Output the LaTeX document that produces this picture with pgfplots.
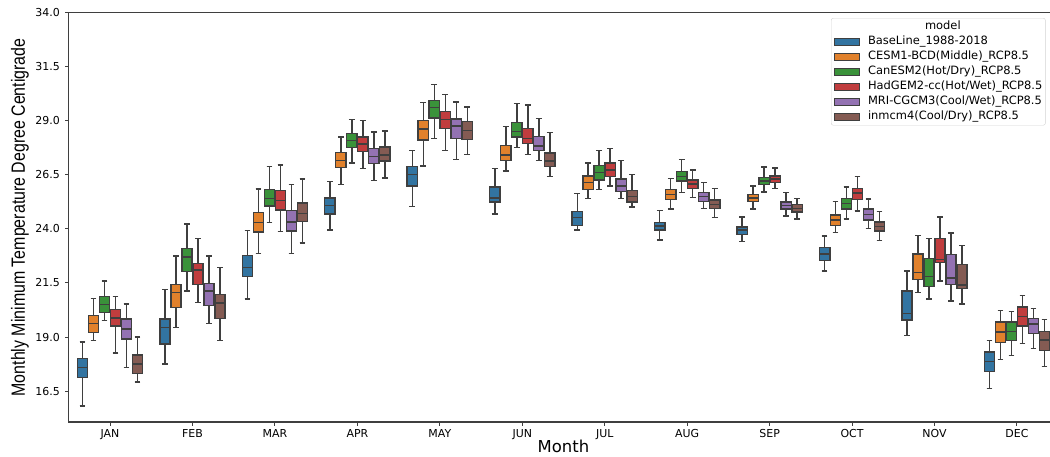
\documentclass[border=0pt]{standalone}
\usepackage{fontspec}
\setmainfont{DejaVu Sans}
\newfontfamily\lib{Liberation Sans}
\usepackage{graphicx}
\usepackage{pgfplots}
\pgfplotsset{compat=1.18}
\usepgfplotslibrary{statistics}
\definecolor{cB}{HTML}{3274A1}
\definecolor{cO}{HTML}{E1812C}
\definecolor{cG}{HTML}{3A923A}
\definecolor{cR}{HTML}{C03D3E}
\definecolor{cP}{HTML}{9372B2}
\definecolor{cN}{HTML}{845B53}
\definecolor{edge}{HTML}{3F3F3F}
\newcommand{\bx}[7]{\addplot[boxplot prepared={draw position=#1, lower whisker=#3, lower quartile=#4, median=#5, upper quartile=#6, upper whisker=#7, box extend=0.125, whisker extend=0.07}, fill=#2, draw=edge, line width=1.5bp, solid] coordinates {};}
\begin{document}
\begin{tikzpicture}
\useasboundingbox (-68.8bp,-35bp) rectangle (981.2bp,422bp);
\begin{axis}[
  scale only axis, width=989.4bp, height=409.3bp,
  boxplot/draw direction=y,
  xmin=-0.5, xmax=11.5, ymin=15.07, ymax=34,
  xtick={0,1,2,3,4,5,6,7,8,9,10,11},
  xticklabels={JAN,FEB,MAR,APR,MAY,JUN,JUL,AUG,SEP,OCT,NOV,DEC},
  ytick={16.5,19,21.5,24,26.5,29,31.5,34},
  yticklabel style={xshift=-2bp, /pgf/number format/.cd, fixed, fixed zerofill, precision=1, assume math mode=true},
  ticklabel style={font=\fontsize{11}{13}\selectfont},
  tick align=outside, major tick length=3.5bp,
  xtick pos=bottom, ytick pos=left,
  tick style={edge, line width=1bp},
  axis line style={edge, line width=1.1bp},
  ylabel={\lib\scalebox{1}[1.2]{\fontsize{16}{18}\selectfont Monthly Minimum Temperature Degree Centigrade}},
  ylabel style={at={(axis description cs:-0.0443,0.5)}, anchor=base},
  xlabel={\fontsize{16.5}{18}\selectfont Month},
  xlabel style={at={(axis description cs:0.5,-0.074)}, anchor=base},
  legend style={at={(axis description cs:0.7704,0.987)}, anchor=north west,
    draw=gray!35, rounded corners=2bp, fill=white,
    font=\fontsize{11.5}{13}\selectfont, inner sep=3bp,
    row sep=4bp, column sep=8bp,
    nodes={inner sep=0pt, text height=8.5bp, text depth=2.5bp},
    cells={anchor=west}},
  legend image code/.code={\draw[#1, draw=edge, line width=0.8bp, sharp corners] (0bp,-3.2bp) rectangle (25bp,3.2bp);},
]
\addlegendimage{empty legend}
\addlegendentry{\hspace{57bp}model}
\addlegendimage{fill=cB}\addlegendentry{BaseLine\_1988-2018}
\addlegendimage{fill=cO}\addlegendentry{CESM1-BCD(Middle)\_RCP8.5}
\addlegendimage{fill=cG}\addlegendentry{CanESM2(Hot/Dry)\_RCP8.5}
\addlegendimage{fill=cR}\addlegendentry{HadGEM2-cc(Hot/Wet)\_RCP8.5}
\addlegendimage{fill=cP}\addlegendentry{MRI-CGCM3(Cool/Wet)\_RCP8.5}
\addlegendimage{fill=cN}\addlegendentry{inmcm4(Cool/Dry)\_RCP8.5}
% JAN
\bx{-0.3333}{cB}{15.82}{17.13}{17.58}{18.00}{18.78}
\bx{-0.2}{cO}{18.83}{19.22}{19.63}{20.00}{20.79}
\bx{-0.0667}{cG}{19.76}{20.13}{20.51}{20.87}{21.59}
\bx{0.0667}{cR}{18.26}{19.51}{19.89}{20.27}{20.87}
\bx{0.2}{cP}{17.58}{18.92}{19.37}{19.83}{20.53}
\bx{0.3333}{cN}{16.92}{17.32}{17.75}{18.17}{19.00}
% FEB
\bx{0.6667}{cB}{17.75}{18.68}{19.45}{19.83}{21.20}
\bx{0.8}{cO}{19.45}{20.37}{21.05}{21.42}{22.75}
\bx{0.9333}{cG}{21.14}{22.04}{22.69}{23.09}{24.23}
\bx{1.0667}{cR}{20.59}{21.44}{22.11}{22.39}{23.56}
\bx{1.2}{cP}{19.62}{20.46}{21.14}{21.47}{22.75}
\bx{1.3333}{cN}{18.85}{19.85}{20.57}{20.97}{22.22}
% MAR
\bx{1.6667}{cB}{20.77}{21.79}{22.22}{22.78}{23.92}
\bx{1.8}{cO}{22.87}{23.86}{24.29}{24.77}{25.85}
\bx{1.9333}{cG}{24.30}{25.07}{25.41}{25.83}{26.88}
\bx{2.0667}{cR}{23.87}{24.87}{25.31}{25.78}{26.96}
\bx{2.2}{cP}{22.87}{23.90}{24.32}{24.86}{26.05}
\bx{2.3333}{cN}{23.35}{24.34}{24.72}{25.21}{26.31}
% APR
\bx{2.6667}{cB}{23.96}{24.70}{25.09}{25.44}{26.19}
\bx{2.8}{cO}{26.06}{26.85}{27.16}{27.54}{28.24}
\bx{2.9333}{cG}{27.06}{27.76}{28.08}{28.42}{29.07}
\bx{3.0667}{cR}{26.80}{27.57}{27.93}{28.25}{29.01}
\bx{3.2}{cP}{26.25}{27.03}{27.34}{27.73}{28.48}
\bx{3.3333}{cN}{26.35}{27.15}{27.42}{27.79}{28.54}
% MAY
\bx{3.6667}{cB}{25.03}{25.98}{26.51}{26.88}{27.63}
\bx{3.8}{cO}{26.92}{28.11}{28.62}{29.01}{29.84}
\bx{3.9333}{cG}{28.19}{29.14}{29.62}{29.93}{30.69}
\bx{4.0667}{cR}{27.63}{28.65}{29.07}{29.44}{30.21}
\bx{4.2}{cP}{27.20}{28.19}{28.76}{29.08}{29.88}
\bx{4.3333}{cN}{27.45}{28.14}{28.56}{28.97}{29.64}
% JUN
\bx{4.6667}{cB}{24.70}{25.24}{25.44}{25.94}{26.80}
\bx{4.8}{cO}{26.68}{27.17}{27.42}{27.85}{28.73}
\bx{4.9333}{cG}{27.76}{28.24}{28.50}{28.93}{29.81}
\bx{5.0667}{cR}{27.45}{27.96}{28.19}{28.65}{29.73}
\bx{5.2}{cP}{27.16}{27.63}{27.83}{28.28}{29.10}
\bx{5.3333}{cN}{26.42}{26.88}{27.13}{27.50}{28.47}
% JUL
\bx{5.6667}{cB}{23.95}{24.16}{24.53}{24.81}{25.64}
\bx{5.8}{cO}{25.40}{25.83}{26.14}{26.45}{27.06}
\bx{5.9333}{cG}{25.83}{26.26}{26.62}{26.94}{27.63}
\bx{6.0667}{cR}{25.98}{26.42}{26.72}{27.05}{27.73}
\bx{6.2}{cP}{25.40}{25.72}{25.98}{26.31}{27.16}
\bx{6.3333}{cN}{25.01}{25.24}{25.49}{25.78}{26.52}
% AUG
\bx{6.6667}{cB}{23.49}{23.95}{24.13}{24.30}{24.86}
\bx{6.8}{cO}{24.92}{25.37}{25.60}{25.83}{26.34}
\bx{6.9333}{cG}{25.69}{26.22}{26.42}{26.66}{27.20}
\bx{7.0667}{cR}{25.46}{25.86}{26.08}{26.26}{26.72}
\bx{7.2}{cP}{24.95}{25.27}{25.49}{25.68}{26.15}
\bx{7.3333}{cN}{24.53}{24.94}{25.14}{25.34}{25.86}
% SEP
\bx{7.6667}{cB}{23.41}{23.75}{23.95}{24.10}{24.55}
\bx{7.8}{cO}{24.92}{25.27}{25.44}{25.60}{25.98}
\bx{7.9333}{cG}{25.71}{26.06}{26.22}{26.37}{26.86}
\bx{8.0667}{cR}{25.86}{26.14}{26.31}{26.45}{26.82}
\bx{8.2}{cP}{24.60}{24.91}{25.09}{25.24}{25.69}
\bx{8.3333}{cN}{24.47}{24.78}{24.95}{25.12}{25.41}
% OCT
\bx{8.6667}{cB}{22.05}{22.53}{22.84}{23.15}{23.67}
\bx{8.8}{cO}{23.84}{24.16}{24.41}{24.64}{25.26}
\bx{8.9333}{cG}{24.47}{24.91}{25.18}{25.41}{25.95}
\bx{9.0667}{cR}{24.83}{25.37}{25.65}{25.88}{26.43}
\bx{9.2}{cP}{24.01}{24.41}{24.66}{24.91}{25.38}
\bx{9.3333}{cN}{23.46}{23.90}{24.12}{24.33}{24.80}
% NOV
\bx{9.6667}{cB}{19.06}{19.79}{20.09}{21.14}{22.05}
\bx{9.8}{cO}{21.05}{21.67}{21.98}{22.84}{23.69}
\bx{9.9333}{cG}{20.76}{21.33}{21.79}{22.64}{23.56}
\bx{10.0667}{cR}{21.59}{22.44}{22.59}{23.56}{24.55}
\bx{10.2}{cP}{20.67}{21.44}{21.74}{22.82}{23.81}
\bx{10.3333}{cN}{20.53}{21.25}{21.41}{22.36}{23.24}
% DEC
\bx{10.6667}{cB}{16.61}{17.40}{17.87}{18.31}{18.83}
\bx{10.8}{cO}{17.97}{18.74}{19.23}{19.69}{20.23}
\bx{10.9333}{cG}{18.14}{18.85}{19.26}{19.69}{20.19}
\bx{11.0667}{cR}{18.69}{19.51}{19.96}{20.39}{20.91}
\bx{11.2}{cP}{18.48}{19.17}{19.60}{19.86}{20.31}
\bx{11.3333}{cN}{17.63}{18.37}{18.86}{19.26}{19.82}
\end{axis}
\end{tikzpicture}
\end{document}
